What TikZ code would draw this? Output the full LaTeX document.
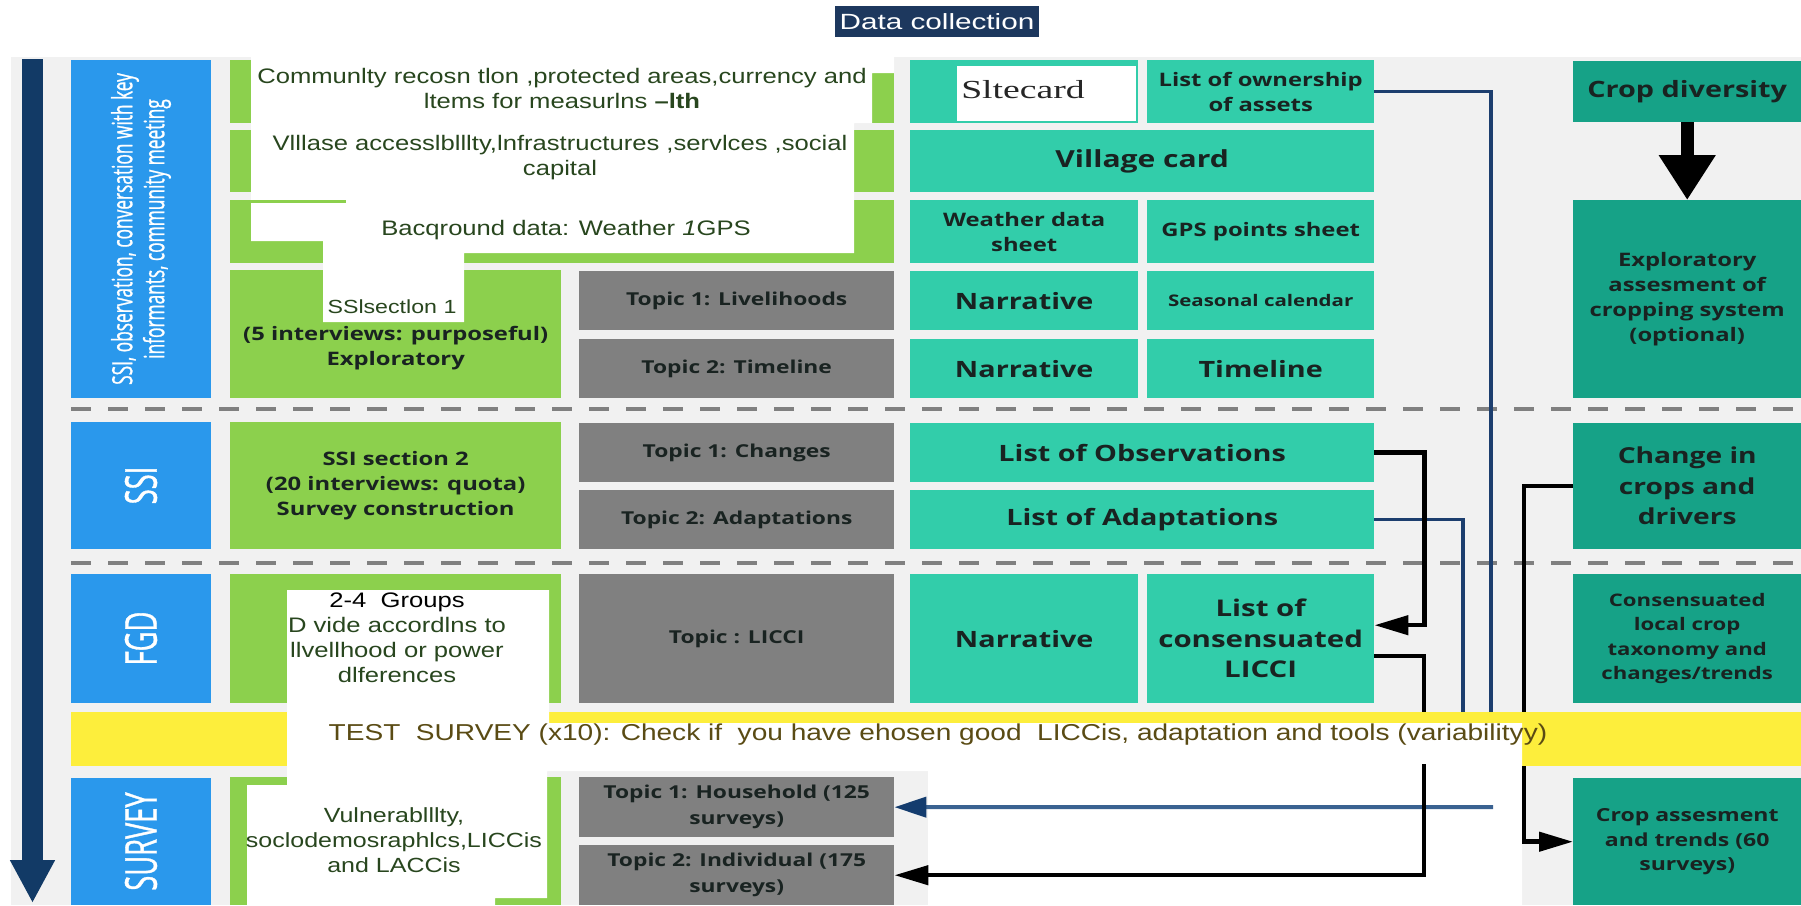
\documentclass[tikz,border=0pt]{standalone}
\usepackage{fontspec}
\setmainfont{Liberation Sans}
\newfontfamily\boxfont[FakeStretch=1.28]{Open Sans}
\newfontfamily\sidefont[FakeStretch=0.62, FakeBold=0.8]{Open Sans}
\newfontfamily\notefont[FakeStretch=1.22]{Liberation Sans}
\newfontfamily\headfont[FakeStretch=1.35]{Liberation Sans}
\newfontfamily\sitefont[FakeStretch=1.45]{Liberation Serif}
\newcommand{\cellsize}[2]{\boxfont\bfseries\fontsize{#1}{#2}\selectfont}
\newcommand{\notesize}[2]{\notefont\fontsize{#1}{#2}\selectfont}
\usetikzlibrary{arrows.meta, calc}

\definecolor{board}{RGB}{241,241,241}
\definecolor{titlenavy}{RGB}{29,56,94}
\definecolor{timenavy}{RGB}{18,58,102}
\definecolor{sideblue}{RGB}{42,152,236}
\definecolor{stepgreen}{RGB}{140,208,77}
\definecolor{topicgray}{RGB}{128,128,128}
\definecolor{outteal}{RGB}{50,205,170}
\definecolor{resteal}{RGB}{22,162,135}
\definecolor{testyellow}{RGB}{253,238,60}
\definecolor{sepgray}{RGB}{128,128,128}
\definecolor{linenavy}{RGB}{28,62,110}
\definecolor{steel}{RGB}{58,98,145}
\definecolor{headnavy}{RGB}{20,60,110}
\definecolor{notegreen}{RGB}{40,70,30}
\definecolor{testbrown}{RGB}{90,75,20}
\definecolor{boxtext}{RGB}{25,35,33}

\tikzset{%
    cell/.style={rectangle, inner sep=0pt, anchor=north west, align=center, text=boxtext},
    sidebox/.style={rectangle, inner sep=0pt, rotate=90, align=center, fill=sideblue, text=white, font=\sidefont\fontsize{44}{48}\selectfont},
    greenbox/.style={cell, fill=stepgreen, font=\cellsize{18.6}{25}},
    topicbox/.style={cell, fill=topicgray, font=\cellsize{17.8}{26}},
    outbox/.style={cell, fill=outteal, font=\cellsize{22.5}{28}},
    resultbox/.style={cell, fill=resteal, font=\cellsize{18.6}{24.7}},
    note/.style={inner sep=0pt, align=center, text=notegreen, font=\notesize{21}{25}},
    titlebox/.style={rectangle, inner sep=0pt, fill=titlenavy, text=white, font=\headfont\fontsize{22}{26}\selectfont},
    rowsep/.style={draw=sepgray, line width=4pt, dash pattern=on 20pt off 17pt},
    blackline/.style={draw=black, line width=4.5pt},
    navyline/.style={draw=linenavy, line width=3.5pt},
    headtip/.style={-{Triangle[length=34pt,width=19pt]}},
    bigarrow/.style={draw=black, line width=13pt, -{Triangle[length=45pt,width=54pt]}},
    timearrow/.style={draw=timenavy, line width=21pt, -{Triangle[length=43pt,width=42pt]}},
}

\begin{document}
\begin{tikzpicture}[x=1pt,y=-1pt]
	\useasboundingbox (0,0) rectangle (1801,905);
	\fill[white] (0,0) rectangle (1801,905);
	\fill[board] (11,57) rectangle (1801,905);

	\node[titlebox, minimum width=204pt, minimum height=31pt] (title) at (937,21.5) {Data collection};

	% time runs downwards
	\coordinate (timetop) at (32.5,59);
	\coordinate (timebot) at (32.5,903);
	\draw[timearrow] (timetop) -- (timebot);

	\draw[rowsep] (71,409) -- (1801,409);
	\draw[rowsep] (71,563) -- (1801,563);

	% methods
	\node[sidebox, minimum width=338pt, minimum height=140pt, font=\sidefont\fontsize{27.9}{32}\selectfont] (sideA) at (141,229) {SSI, observation, conversation with key\\informants, community meeting};
	\node[sidebox, minimum width=127pt, minimum height=140pt] (sideSSI) at (141,485.5) {SSI};
	\node[sidebox, minimum width=129pt, minimum height=140pt] (sideFGD) at (141,638.5) {FGD};
	\node[sidebox, minimum width=127pt, minimum height=140pt] (sideSurvey) at (141,841.5) {SURVEY};

	% steps
	\node[greenbox, minimum width=664pt, minimum height=63pt] (stepA) at (230,60) {};
	\node[greenbox, minimum width=664pt, minimum height=62pt] (stepB) at (230,130) {};
	\node[greenbox, minimum width=664pt, minimum height=63pt] (stepC) at (230,200) {};
	\node[greenbox, minimum width=331pt, minimum height=128pt] (stepD) at (230,270) {\strut\\(5 interviews: purposeful)\\Exploratory};
	\node[greenbox, minimum width=331pt, minimum height=127pt] (stepE) at (230,422) {SSI section 2\\(20 interviews: quota)\\Survey construction};
	\node[greenbox, minimum width=331pt, minimum height=129pt] (stepF) at (230,574) {};
	\node[greenbox, minimum width=331pt, minimum height=128pt] (stepG) at (230,777) {};

	% topics
	\node[topicbox, minimum width=315pt, minimum height=59pt] (topLive) at (579,271) {Topic 1: Livelihoods};
	\node[topicbox, minimum width=315pt, minimum height=59pt] (topTime) at (579,339) {Topic 2: Timeline};
	\node[topicbox, minimum width=315pt, minimum height=59pt] (topChange) at (579,423) {Topic 1: Changes};
	\node[topicbox, minimum width=315pt, minimum height=59pt] (topAdapt) at (579,490) {Topic 2: Adaptations};
	\node[topicbox, minimum width=315pt, minimum height=129pt] (topLicci) at (579,574) {Topic : LICCI};
	\node[topicbox, minimum width=315pt, minimum height=60pt] (topHouse) at (579,777) {Topic 1: Household (125\\surveys)};
	\node[topicbox, minimum width=315pt, minimum height=60pt] (topIndiv) at (579,845) {Topic 2: Individual (175\\surveys)};

	% outputs
	\node[outbox, minimum width=228pt, minimum height=63pt] (site) at (910,60) {};
	\node[outbox, minimum width=227pt, minimum height=63pt, font=\cellsize{18.6}{25}] (own) at (1147,60) {List of ownership\\of assets};
	\node[outbox, minimum width=464pt, minimum height=62pt, font=\cellsize{23.5}{28}] (village) at (910,130) {Village card};
	\node[outbox, minimum width=228pt, minimum height=63pt, font=\cellsize{18.6}{25}] (weather) at (910,200) {Weather data\\sheet};
	\node[outbox, minimum width=227pt, minimum height=63pt, font=\cellsize{18.6}{25}] (gps) at (1147,200) {GPS points sheet};
	\node[outbox, minimum width=228pt, minimum height=59pt] (narrLive) at (910,271) {Narrative};
	\node[outbox, minimum width=227pt, minimum height=59pt, font=\cellsize{16}{20}] (season) at (1147,271) {Seasonal calendar};
	\node[outbox, minimum width=228pt, minimum height=59pt] (narrTime) at (910,339) {Narrative};
	\node[outbox, minimum width=227pt, minimum height=59pt] (timeline) at (1147,339) {Timeline};
	\node[outbox, minimum width=464pt, minimum height=59pt] (obs) at (910,423) {List of Observations};
	\node[outbox, minimum width=464pt, minimum height=59pt] (adapt) at (910,490) {List of Adaptations};
	\node[outbox, minimum width=228pt, minimum height=129pt] (narrLicci) at (910,574) {Narrative};
	\node[outbox, minimum width=227pt, minimum height=129pt, font=\cellsize{23}{30.5}] (licci) at (1147,574) {List of\\consensuated\\LICCI};

	% results
	\node[resultbox, minimum width=228pt, minimum height=61pt, font=\cellsize{22.5}{28}] (cropdiv) at (1573,61) {Crop diversity};
	\node[resultbox, minimum width=228pt, minimum height=198pt] (explor) at (1573,200) {Exploratory\\assesment of\\cropping system\\(optional)};
	\node[resultbox, minimum width=228pt, minimum height=126pt, font=\cellsize{22}{30.5}] (change) at (1573,423) {Change in\\crops and\\drivers};
	\node[resultbox, minimum width=228pt, minimum height=129pt, font=\cellsize{17.3}{24.5}] (consens) at (1573,574) {Consensuated\\local crop\\taxonomy and\\changes/trends};
	\node[resultbox, minimum width=228pt, minimum height=127pt, font=\cellsize{18}{24.5}] (cropass) at (1573,778) {Crop assesment\\and trends (60\\surveys)};

	\draw[bigarrow] (cropdiv) -- (explor);

	% links down to the test survey
	\coordinate (ownin) at (1491,740);
	\coordinate (adaptin) at (1463,740);
	\coordinate (licciin) at (1424,740);
	\coordinate (changein) at (1524,740);
	\draw[navyline] (own.east) -| (ownin);
	\draw[navyline] (adapt.east) -| (adaptin);
	\draw[blackline, headtip] (obs.east) -- ++(50,0) |- ($(licci.east)+(0,-13.5)$);
	\draw[blackline] ($(licci.east)+(0,17.5)$) -| (licciin);
	\draw[blackline] (change.west) -| (changein);

	\fill[testyellow] (71,712) rectangle (1801,766);

	% pasted text boxes
	\fill[white] (251,55) -- (894,55) -- (894,73) -- (872,73) -- (872,123) -- (854,123) -- (854,253) -- (464,253) -- (464,322) -- (323,322) -- (323,241) -- (251,241) -- cycle;
	\fill[stepgreen] (251,200) rectangle (346,203);
	\fill[white] (957,66) rectangle (1136,121);
	\fill[white] (287,590) -- (549,590) -- (549,723) -- (1522,723) -- (1522,905) -- (928,905) -- (928,771) -- (547,771) -- (547,898) -- (495,898) -- (495,905) -- (247,905) -- (247,785) -- (287,785) -- cycle;

	\node[note] (noteA) at (562,88.5) {Communlty recosn tlon ,protected areas,currency and\\ltems for measurlns {\bfseries –lth}};
	\node[note] (noteB) at (560,157.5) {Vlllase accesslblllty,lnfrastructures ,servlces ,social\\capital};
	\node[note] (noteC) at (566,230) {Bacqround data: Weather \textit{1}GPS};
	\node[note, font=\notesize{19}{23}] (noteD) at (392,307) {SSlsectlon 1};
	\node[note] (noteFGD) at (397,637.5) {\textcolor{black}{2-4 \ Groups}\\D vide accordlns to\\llvellhood or power\\dlferences};
	\node[note, font=\notesize{20.5}{25}] (noteSurvey) at (394,840) {Vulnerablllty,\\soclodemosraphlcs,LICCis\\and LACCis};
	\node[note, text=testbrown, font=\notesize{23}{28}] (test) at (938,735) {TEST \ SURVEY (x10): Check if \ you have ehosen good \ LICCis, adaptation and tools (variabilityy)};
	\node[inner sep=0pt, text=black!85, font=\sitefont\fontsize{26}{30}\selectfont] (sitetext) at (1023,90) {Sltecard};

	% links into the survey
	\coordinate (houseout) at (1493,807);
	\coordinate (indivout) at (1424,764);
	\coordinate (cropout) at (1524,766);
	\draw[draw=steel, line width=4pt, -{Triangle[length=32pt,width=20pt,color=headnavy]}] (houseout) -- (topHouse);
	\draw[blackline, headtip] (indivout) |- (topIndiv.east);
	\draw[blackline, headtip] (cropout) |- (cropass.west);
\end{tikzpicture}
\end{document}
